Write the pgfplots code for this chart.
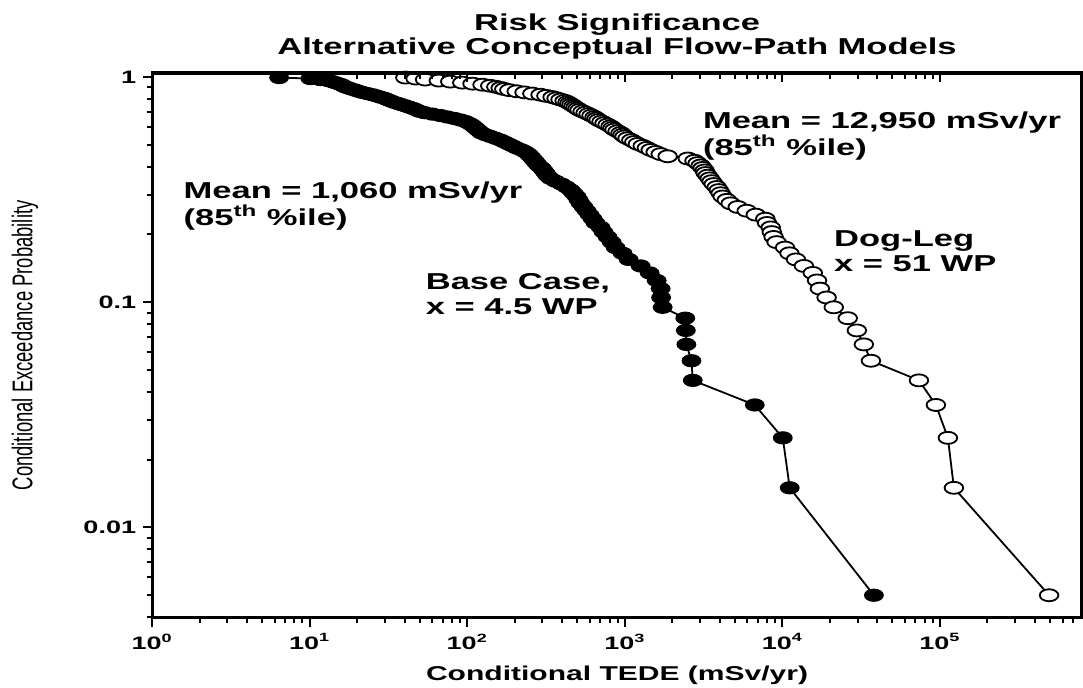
\documentclass[border=0pt]{standalone}
\usepackage{pgfplots}
\usepackage{pgfplotstable}
\pgfplotsset{compat=1.18}
\usepackage{fontspec}
\setmainfont{Liberation Sans}[FakeStretch=1.55, BoldFeatures={FakeStretch=1.5}]
\newfontfamily\plainsans{Liberation Sans}

% exceedance curves, 100 realizations each: TEDE (mSv/yr) vs. probability
\pgfplotstableread{
x y
6.4 0.995
10.1 0.985
11.7 0.975
13.1 0.965
13.9 0.955
14.5 0.945
15.2 0.935
15.9 0.925
16.3 0.915
16.8 0.905
17.6 0.895
18.4 0.885
19.5 0.875
20.4 0.865
21.6 0.855
23.2 0.845
25.0 0.835
26.5 0.825
28.1 0.815
29.8 0.805
31.1 0.795
32.5 0.785
34.0 0.775
36.0 0.765
38.2 0.755
40.5 0.745
42.9 0.735
45.5 0.725
47.6 0.715
49.7 0.705
53.5 0.695
60.1 0.685
67.6 0.675
74.9 0.665
82.9 0.655
90.5 0.645
97.4 0.635
101.8 0.625
106.4 0.615
109.5 0.605
112.8 0.595
116.1 0.585
119.5 0.575
123.0 0.565
130.6 0.555
140.4 0.545
151.1 0.535
162.5 0.525
172.3 0.515
182.7 0.505
193.7 0.495
205.4 0.485
220.9 0.475
234.3 0.465
244.8 0.455
252.2 0.445
259.6 0.435
267.4 0.425
275.4 0.415
283.4 0.405
296.2 0.395
304.9 0.385
314.1 0.375
323.4 0.365
337.8 0.355
363.3 0.345
396.4 0.335
426.6 0.325
452.9 0.315
473.2 0.305
494.4 0.295
509.0 0.285
524.0 0.275
547.5 0.265
571.9 0.255
597.5 0.245
624.2 0.235
652.1 0.225
701.8 0.215
733.4 0.205
778.6 0.195
824.9 0.185
874.0 0.175
968.6 0.165
1057 0.155
1260 0.145
1438 0.135
1593 0.125
1688 0.115
1700 0.105
1739 0.095
2420 0.085
2440 0.075
2460 0.065
2650 0.055
2700 0.045
6680 0.035
10060 0.025
11140 0.015
38100 0.005
}\basecase

\pgfplotstableread{
x y
40.5 0.995
47 0.985
54 0.975
66 0.965
78 0.955
93 0.945
108 0.935
125 0.925
140 0.915
153 0.905
163 0.895
172 0.885
185 0.875
206 0.865
231 0.855
259 0.845
292 0.835
318 0.825
348 0.815
369 0.805
391 0.795
415 0.785
433 0.775
446 0.765
459 0.755
473 0.745
487 0.735
501 0.725
516 0.715
540 0.705
564 0.695
589 0.685
615 0.675
643 0.665
662 0.655
682 0.645
712 0.635
744 0.625
778 0.615
812 0.605
836 0.595
861 0.585
900 0.575
940 0.565
968 0.555
997 0.545
1040 0.535
1100 0.525
1150 0.515
1210 0.505
1300 0.495
1380 0.485
1460 0.475
1570 0.465
1690 0.455
1870 0.445
2510 0.435
2770 0.425
2900 0.415
3030 0.405
3120 0.395
3210 0.385
3260 0.375
3360 0.365
3460 0.355
3560 0.345
3670 0.335
3830 0.325
3950 0.315
4060 0.305
4180 0.295
4440 0.285
4700 0.275
5210 0.265
5940 0.255
6780 0.245
7800 0.235
8000 0.225
8440 0.215
8570 0.205
8800 0.195
9200 0.185
10400 0.175
11100 0.165
12200 0.155
13700 0.145
15600 0.135
16600 0.125
17300 0.115
19100 0.105
21200 0.095
26000 0.085
29700 0.075
32900 0.065
36500 0.055
73600 0.045
94300 0.035
112400 0.025
122700 0.015
493000 0.005
}\dogleg

\begin{document}
\begin{tikzpicture}
\begin{axis}[
  scale only axis, width=464.5pt, height=272pt,
  xmode=log, ymode=log,
  xmin=1, xmax=7.98e5, ymin=0.00398, ymax=1.042,
  axis line style={line width=1.6pt},
  tick align=outside, xtick pos=bottom, ytick pos=left,
  major tick length=4.5pt, minor tick length=2.8pt,
  tick style={line width=1pt, black},
  xtick={1,10,100,1000,10000,100000},
  xticklabels={10\textsuperscript{0},10\textsuperscript{1},10\textsuperscript{2},10\textsuperscript{3},10\textsuperscript{4},10\textsuperscript{5}},
  minor xtick={2,3,4,5,6,7,8,9,20,30,40,50,60,70,80,90,200,300,400,500,600,700,800,900,2000,3000,4000,5000,6000,7000,8000,9000,20000,30000,40000,50000,60000,70000,80000,90000,200000,300000,400000,500000,600000,700000},
  ytick={0.01,0.1,1}, yticklabels={0.01,0.1,1},
  minor ytick={0.004,0.005,0.006,0.007,0.008,0.009,0.02,0.03,0.04,0.05,0.06,0.07,0.08,0.09,0.2,0.3,0.4,0.5,0.6,0.7,0.8,0.9},
  /pgf/number format/assume math mode=true,
  ticklabel style={font=\fontsize{9}{10}\selectfont\bfseries},
  xlabel={Conditional TEDE (mSv/yr)},
  xlabel style={at={(axis description cs:0.5,-0.1066)}, anchor=center, font=\fontsize{10}{11}\selectfont\bfseries},
  ylabel={\plainsans\fontsize{9.2}{10}\selectfont\scalebox{1}[1.55]{Conditional Exceedance Probability}},
  ylabel style={at={(axis description cs:-0.1367,0.5)}, anchor=center},
  title={Risk Significance\\Alternative Conceptual Flow-Path Models},
  title style={at={(axis description cs:0.5,1)}, anchor=south, yshift=0.5pt, inner sep=0pt, align=center, font=\fontsize{11.5}{12}\selectfont\bfseries},
]
\addplot[black, line width=0.9pt, mark=*, mark size=3pt,
  mark options={fill=black, draw=black, line width=0.6pt, xscale=1.55}] table[x=x, y=y] {\basecase};
\addplot[black, line width=0.9pt, mark=*, mark size=3pt,
  mark options={fill=white, draw=black, line width=0.9pt, xscale=1.55}] table[x=x, y=y] {\dogleg};

\coordinate (O) at (rel axis cs:0,0);
\begin{scope}[every node/.style={anchor=north west, inner sep=0pt, align=left, font=\fontsize{11.5}{12.5}\selectfont\bfseries}]
\node at (axis description cs:0.0334,0.8015) {Mean = 1,060 mSv/yr\\(85\textsuperscript{th} \%ile)};
\node at (axis description cs:0.592,0.930) {Mean = 12,950 mSv/yr\\(85\textsuperscript{th} \%ile)};
\node at (axis description cs:0.2939,0.632) {Base Case,\\x = 4.5 WP};
\node at (axis description cs:0.733,0.7114) {Dog-Leg\\x = 51 WP};
\end{scope}
\end{axis}
% top ticks point into the box
\begin{axis}[
  scale only axis, width=464.5pt, height=272pt,
  xmode=log, xmin=1, xmax=7.98e5, ymin=0, ymax=1,
  axis x line*=top, hide y axis,
  axis line style={line width=1.6pt, -},
  tick align=inside, major tick length=4.5pt,
  tick style={line width=1pt, black},
  xtick={10,100,1000,10000,100000}, xticklabels={}, minor xtick={},
]
\end{axis}
\pgfresetboundingbox
\path ([shift={(-76pt,-35pt)}]O) rectangle ([shift={(465pt,308.5pt)}]O);
\end{tikzpicture}
\end{document}
